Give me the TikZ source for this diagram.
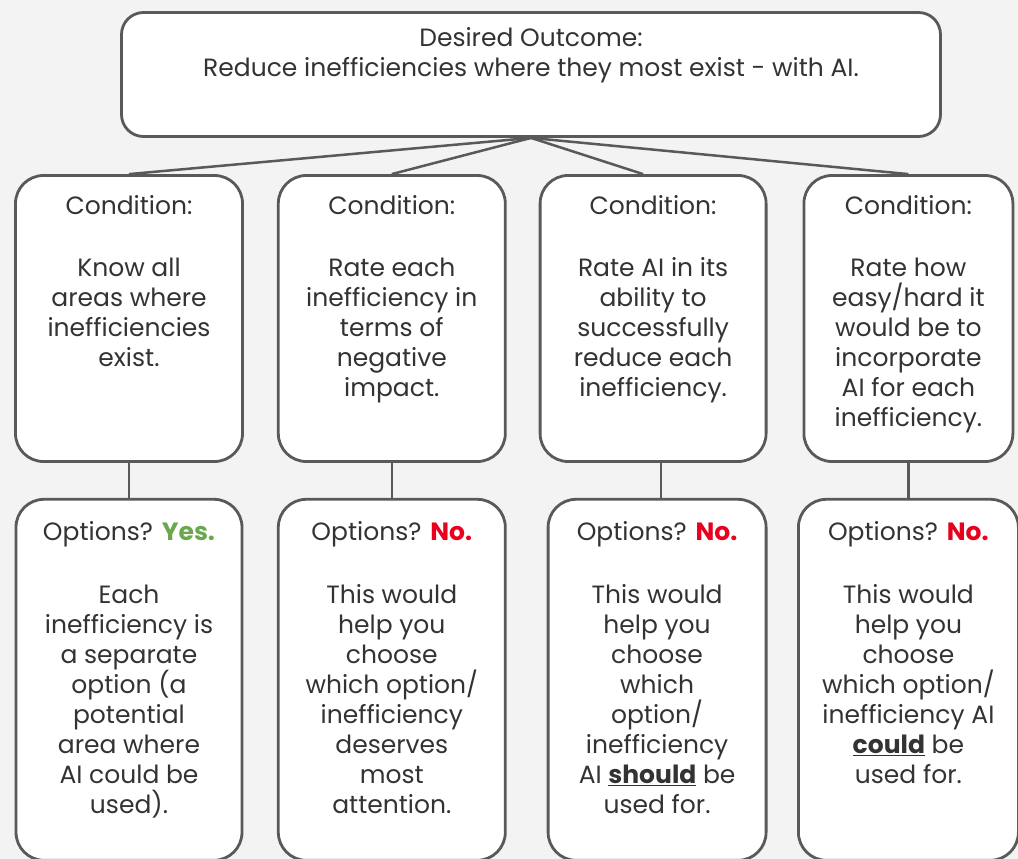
\documentclass[tikz,border=0pt]{standalone}
\usepackage{fontspec}
\setmainfont{Poppins}
\usetikzlibrary{positioning}

\definecolor{bggray}{HTML}{F3F3F3}
\definecolor{linegray}{HTML}{595959}
\definecolor{textgray}{HTML}{333333}
\definecolor{yesgreen}{HTML}{6AA84F}
\definecolor{nored}{HTML}{E8001C}

\begin{document}
\begin{tikzpicture}[
  x=1pt, y=-1pt,
  font=\fontsize{25}{30}\selectfont,
  box/.style={draw=linegray, line width=2.8pt, fill=white, rounded corners=28pt, inner sep=0pt},
  cond/.style={box, minimum height=286pt},
  opt/.style={box, minimum height=361pt},
  txt/.style={anchor=north, align=center, inner sep=0pt, text=textgray},
  link/.style={draw=linegray, line width=2.5pt}
]
  \fill[bggray] (0,0) rectangle (1018,859);
  \useasboundingbox (0,0) rectangle (1018,859);

  % Desired outcome
  \node[box, rounded corners=22pt, minimum width=819pt, minimum height=124pt] (goal) at (531,74.5) {};
  \node[txt] (goaltxt) at ([yshift=-16pt]goal.north) {Desired Outcome:\\Reduce inefficiencies where they most exist - with AI.};

  % Condition row
  \node[cond, minimum width=227pt] (c1) at (129,318.5) {};
  \node[cond, minimum width=227pt, right=33pt of c1] (c2) {};
  \node[cond, minimum width=226pt, right=32pt of c2] (c3) {};
  \node[cond, minimum width=209pt, right=35pt of c3] (c4) {};

  % Options row
  \node[opt, minimum width=226pt, below=35pt of c1] (o1) {};
  \node[opt, minimum width=227pt, below=35pt of c2] (o2) {};
  \node[opt, minimum width=218pt, below=35pt of c3, xshift=4pt] (o3) {};
  \node[opt, minimum width=220pt, below=35pt of c4] (o4) {};

  % Connectors
  \draw[link] (goal.south) -- (c1.north);
  \draw[link] (goal.south) -- (c2.north);
  \draw[link] (goal.south) -- ([xshift=-10pt]c3.north);
  \draw[link] (goal.south) -- (c4.north);
  \draw[link] (c1.south) -- (o1.north);
  \draw[link] (c2.south) -- (o2.north);
  \draw[link] ([xshift=8pt]c3.south) -- ([xshift=8pt]c3.south |- o3.north);
  \draw[link] (c4.south) -- (c4.south |- o4.north);

  % Condition texts
  \node[txt] (c1txt) at ([yshift=-21pt]c1.north) {Condition:\\[32pt]Know all\\areas where\\inefficiencies\\exist.};
  \node[txt] (c2txt) at ([yshift=-21pt]c2.north) {Condition:\\[32pt]Rate each\\inefficiency in\\terms of\\negative\\impact.};
  \node[txt] (c3txt) at ([yshift=-21pt]c3.north) {Condition:\\[32pt]Rate AI in its\\ability to\\successfully\\reduce each\\inefficiency.};
  \node[txt] (c4txt) at ([yshift=-21pt]c4.north) {Condition:\\[32pt]Rate how\\easy/hard it\\would be to\\incorporate\\AI for each\\inefficiency.};

  % Option texts
  \node[txt] (o1txt) at ([yshift=-23pt]o1.north) {Options? {\bfseries\color{yesgreen}Yes.}\\[33pt]Each\\inefficiency is\\a separate\\option (a\\potential\\area where\\AI could be\\used).};
  \node[txt] (o2txt) at ([yshift=-23pt]o2.north) {Options? {\bfseries\color{nored}No.}\\[33pt]This would\\help you\\choose\\which option/\\inefficiency\\deserves\\most\\attention.};
  \node[txt] (o3txt) at ([yshift=-23pt]o3.north) {Options? {\bfseries\color{nored}No.}\\[33pt]This would\\help you\\choose\\which\\option/\\inefficiency\\AI \underline{\textbf{should}} be\\used for.};
  \node[txt] (o4txt) at ([yshift=-23pt]o4.north) {Options? {\bfseries\color{nored}No.}\\[33pt]This would\\help you\\choose\\which option/\\inefficiency AI\\\underline{\textbf{could}} be\\used for.};
\end{tikzpicture}
\end{document}
